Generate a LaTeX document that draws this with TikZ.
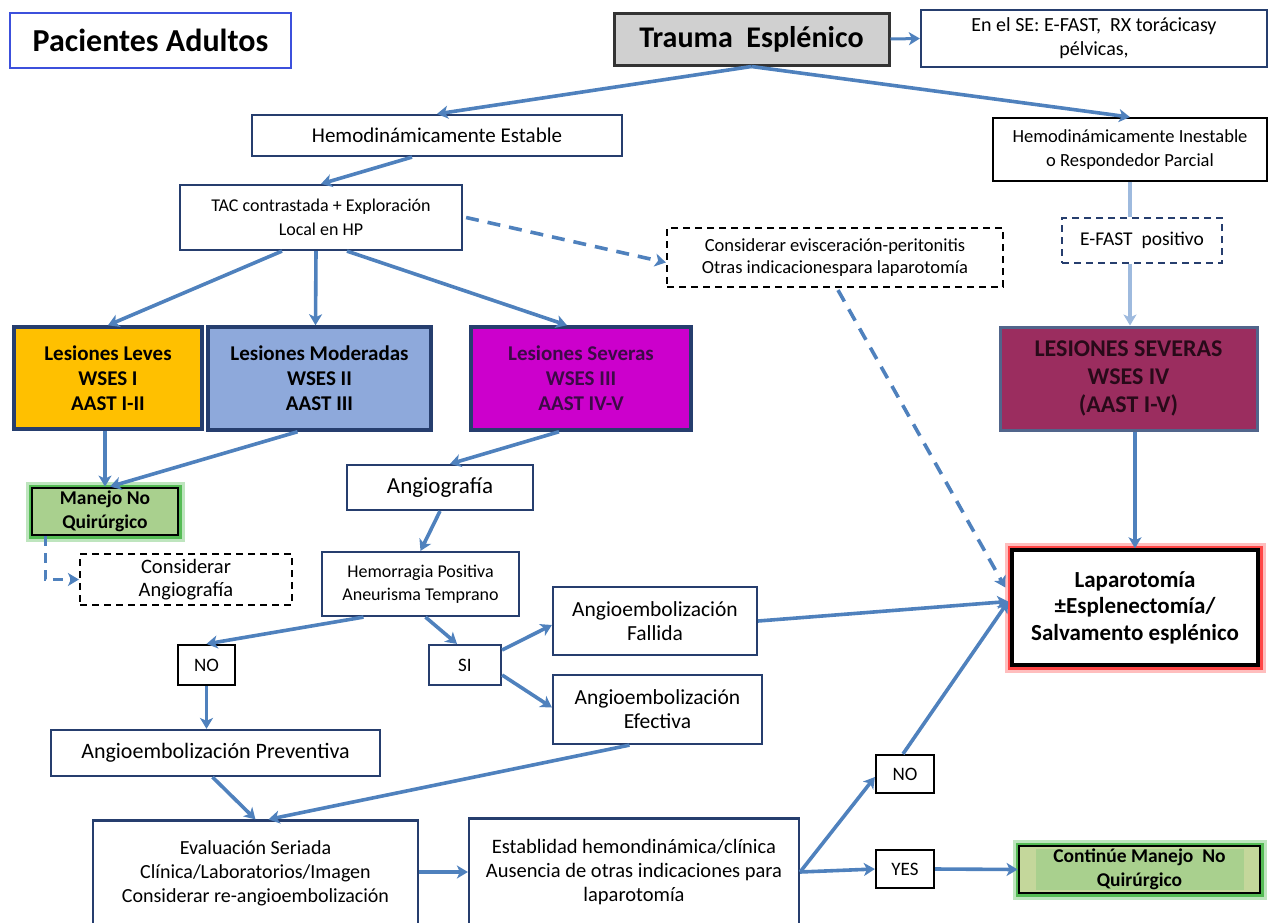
\documentclass[tikz,border=0pt]{standalone}
\usepackage{fontspec}
\setmainfont{Carlito}
\usetikzlibrary{arrows.meta,calc}
\definecolor{arr}{RGB}{79,129,189}
\definecolor{arrlight}{RGB}{158,186,222}
\definecolor{navy}{RGB}{38,62,110}
\definecolor{paccol}{RGB}{60,80,220}
\definecolor{levescol}{RGB}{255,192,0}
\definecolor{modcol}{RGB}{142,169,219}
\definecolor{sevcol}{RGB}{204,0,204}
\definecolor{sevtext}{RGB}{60,10,70}
\definecolor{sevfourcol}{RGB}{155,45,95}
\definecolor{sevfourtext}{RGB}{40,10,25}
\definecolor{greenfill}{RGB}{169,208,142}
\definecolor{greenout}{RGB}{196,215,155}
\definecolor{glowgreen}{RGB}{40,170,40}
\definecolor{glowred}{RGB}{255,40,40}
\definecolor{graycol}{RGB}{208,208,208}
\newcommand{\myfs}[2]{\fontsize{#1}{#2}\selectfont}
\tikzset{
  bx/.style={draw=navy, line width=2.2pt, fill=white, align=center, inner sep=0pt, text=black},
  blk/.style={bx, draw=black},
  dbox/.style={bx, draw=black, dashed, dash pattern=on 7pt off 5pt},
  lesbox/.style={bx, line width=3.5pt, font=\myfs{21}{25}\bfseries},
  glowg/.style={preaction={draw=glowgreen, line width=13pt, opacity=0.3},
                preaction={draw=glowgreen, line width=7pt, opacity=0.7}},
  glowr/.style={preaction={draw=glowred, line width=15pt, opacity=0.3},
                preaction={draw=glowred, line width=9pt, opacity=0.8}},
  arw/.style={draw=arr, line width=3.6pt, -{Stealth[length=11pt,width=13pt,inset=3pt]}},
  arwlight/.style={arw, draw=arrlight},
  darw/.style={arw, dash pattern=on 13pt off 9pt},
  lne/.style={draw=arrlight, line width=3.6pt}
}
\begin{document}
\begin{tikzpicture}[x=1pt,y=-1pt]
\useasboundingbox (0,0) rectangle (1270,922);
\clip (0,0) rectangle (1270,922);

% ---------- nodes ----------
\node[bx, draw=paccol, line width=2pt, minimum width=281, minimum height=55, font=\myfs{32}{38}\bfseries] (pac) at (150.5,40.5) {Pacientes Adultos};
\node[bx, draw=black!80, fill=graycol, line width=3pt, minimum width=275, minimum height=52, font=\myfs{30}{36}\bfseries] (trauma) at (751.5,39) {Trauma\ \ Esplénico};
\node[bx, minimum width=346, minimum height=57, font=\myfs{20}{24}] (se) at (1094,38.5) {En el SE: E-FAST,\ \ RX torácicasy\\pélvicas,};
\node[bx, minimum width=370, minimum height=41, font=\myfs{21}{25}] (hest) at (437,135.5) {Hemodinámicamente Estable};
\node[blk, line width=1.8pt, minimum width=274, minimum height=63, font=\myfs{18.5}{24}] (hinest) at (1130,149.5) {Hemodinámicamente Inestable\\o Respondedor Parcial};
\node[bx, minimum width=282, minimum height=65, font=\myfs{18}{24}] (tac) at (321,217.5) {TAC contrastada + Exploración\\Local en HP};
\node[dbox, line width=2.2pt, minimum width=336, minimum height=59, font=\myfs{18.5}{22}] (cev) at (835,257.5) {Considerar evisceración-peritonitis\\Otras indicacionespara laparotomía};
\node[dbox, draw=navy, line width=1.8pt, minimum width=160, minimum height=45, font=\myfs{19.5}{24}] (efast) at (1142,240.5) {E-FAST\ \ positivo};

\node[lesbox, fill=levescol, minimum width=188, minimum height=102] (leves) at (108,378) {Lesiones Leves\\WSES I\\AAST I-II};
\node[lesbox, fill=modcol, minimum width=223, minimum height=103] (mod) at (319.5,378.5) {Lesiones Moderadas\\WSES II\\AAST III};
\node[lesbox, fill=sevcol, text=sevtext, minimum width=220, minimum height=103] (sev) at (581,378.5) {Lesiones Severas\\WSES III\\AAST IV-V};
\node[bx, line width=3pt, draw=navy!80, fill=sevfourcol, text=sevfourtext, minimum width=257, minimum height=103, font=\myfs{24}{28}\bfseries] (sevfour) at (1128.5,378.5) {LESIONES SEVERAS\\WSES IV\\(AAST I-V)};

\node[blk, glowg, fill=greenfill, line width=2.8pt, minimum width=146, minimum height=47, font=\myfs{19.5}{24}\bfseries] (manejo) at (105,511.5) {Manejo No\\Quirúrgico};
\node[dbox, line width=2.2pt, minimum width=212, minimum height=51, font=\myfs{20.5}{23}] (cang) at (186,579.5) {Considerar\\Angiografía};
\node[bx, minimum width=186, minimum height=45, font=\myfs{23}{27}] (angio) at (440,487.5) {Angiografía};
\node[bx, minimum width=197, minimum height=64, font=\myfs{18}{23}] (hemo) at (420.5,584) {Hemorragia Positiva\\Aneurisma Temprano};
\node[bx, minimum width=204, minimum height=68, font=\myfs{21.5}{24}] (fall) at (655,621) {Angioembolización\\Fallida};
\node[bx, minimum width=209, minimum height=69, font=\myfs{21.5}{24}] (efec) at (657.5,709.5) {Angioembolización\\Efectiva};
\node[blk, glowr, line width=3.5pt, minimum width=246, minimum height=115, font=\myfs{23}{26.5}\bfseries] (lap) at (1135,607.5) {Laparotomía\\±Esplenectomía/\\Salvamento esplénico};
\node[blk, minimum width=57, minimum height=40, font=\myfs{19}{24}] (noa) at (206.5,665) {NO};
\node[bx, minimum width=72, minimum height=40, font=\myfs{19}{24}] (si) at (465,665) {SI};
\node[bx, minimum width=329, minimum height=46, font=\myfs{22}{26}] (prev) at (215.5,753) {Angioembolización Preventiva};
\node[bx, minimum width=325, minimum height=105, font=\myfs{20}{24}] (eval) at (255.5,873) {Evaluación Seriada\\Clínica/Laboratorios/Imagen\\Considerar re-angioembolización};
\node[bx, minimum width=330, minimum height=107, font=\myfs{20.5}{24}] (estab) at (634,872) {Establidad hemondinámica/clínica\\Ausencia de otras indicaciones para\\laparotomía};
\node[blk, minimum width=58, minimum height=38, font=\myfs{19}{24}] (nob) at (905,774) {NO};
\node[blk, minimum width=58, minimum height=38, font=\myfs{19}{24}] (yes) at (905,869) {YES};
\node[blk, glowg, fill=greenout, line width=2.8pt, minimum width=241, minimum height=47] (cont) at (1139.5,869.5) {};
\node[fill=greenfill, inner sep=0pt, minimum width=208, minimum height=34, align=center, font=\myfs{19.5}{24}\bfseries] (conttext) at (cont.center) {Continúe Manejo\ \ No\\Quirúrgico};

% ---------- connectors ----------
\draw[arw, line width=3pt] (trauma.east) -- (se.west);
\draw[arw] (trauma.south) -- (hest.north);
\draw[arw] (trauma.south) -- (hinest.north);
\draw[arw] ($(hest.south)+(-25,0)$) -- (tac.north);
\draw[arw] ($(tac.south)+(-39,0)$) -- (leves.north);
\draw[arw] ($(tac.south)+(-5,0)$) -- ($(mod.north)+(-4,0)$);
\draw[arw] ($(tac.south)+(26,0)$) -- ($(sev.north)+(-14,0)$);
\draw[darw] ($(tac.east)+(3,0)$) -- ($(cev.west)+(0,5)$);
\draw[darw] ($(cev.south)+(3,2)$) -- ($(lap.west)+(-5,-20)$);
\draw[lne] (hinest.south) -- (hinest.south |- efast.north);
\draw[arwlight] (hinest.south |- efast.south) -- (hinest.south |- sevfour.north);
\draw[arw] (sevfour.south -| lap.north) -- (lap.north);
\draw[arw] (manejo.north |- leves.south) -- (manejo.north);
\draw[arw] ($(mod.south)+(-22,0)$) -- ($(manejo.north)+(5,0)$);
\draw[arw, dash pattern=on 10pt off 7pt, line width=3pt] ($(manejo.south)+(-60,0)$) |- (cang.west);
\draw[arw] ($(sev.south)+(-22,0)$) -- ($(angio.north)+(10,0)$);
\draw[arw] (angio.south) -- (hemo.north);
\draw[arw] ($(hemo.south)+(-57,0)$) -- (noa.north);
\draw[arw] ($(hemo.south)+(5,0)$) -- ($(si.north)+(-8,0)$);
\draw[arw] ($(si.east)+(0,-15)$) -- ($(fall.west)+(0,4)$);
\draw[arw] ($(si.east)+(0,10)$) -- ($(efec.west)+(0,-2)$);
\draw[arw] (noa.south) -- (noa.south |- prev.north);
\draw[arw] ($(prev.south)+(-3,0)$) -- (eval.north);
\draw[arw] ($(efec.south)+(-28,0)$) -- ($(eval.north)+(13,0)$);
\draw[arw] (fall.east) -- ($(lap.west)+(-2,-6)$);
\draw[arw] (eval.east |- estab.west) -- (estab.west);
\draw[arw] (estab.east) -- ($(nob.west)+(0,3)$);
\draw[arw] (estab.east) -- (yes.west);
\draw[arw] (yes.east) -- (cont.west);
\draw[arw] ($(nob.north)+(-2,0)$) -- ($(lap.west)+(-2,-6)$);
\end{tikzpicture}
\end{document}
